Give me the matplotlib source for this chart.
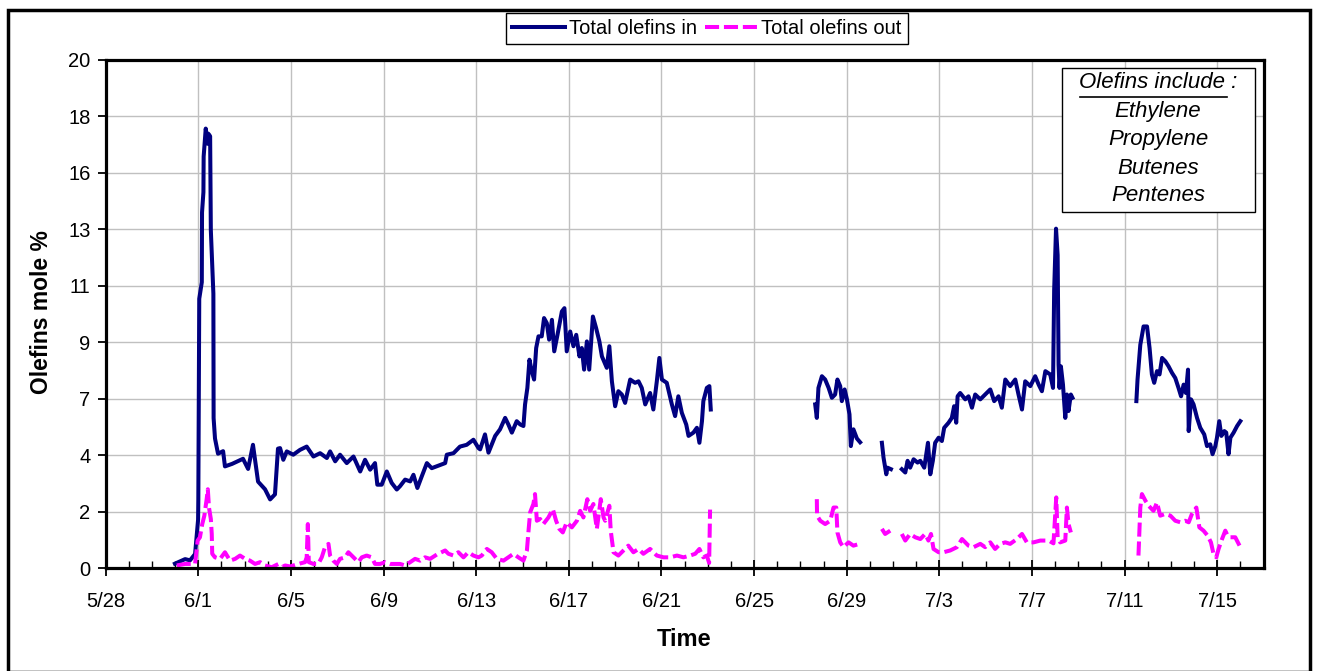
import numpy as np
import matplotlib.pyplot as plt
from matplotlib.patches import Rectangle
from matplotlib.lines import Line2D

plt.rcParams['font.family'] = ['Liberation Sans', 'DejaVu Sans']

gap = np.nan

# days after 5/28
in_days = [
    2.99, 3.43, 3.64, 3.86, 3.99, 4.00, 4.04, 4.15, 4.16, 4.22,
    4.23, 4.32, 4.41, 4.43, 4.51, 4.54, 4.65, 4.66, 4.72, 4.85,
    5.07, 5.15, 5.46, 5.93, 6.15, 6.36, 6.58, 6.88, 7.10, 7.31,
    7.44, 7.53, 7.67, 7.82, 8.10, 8.39, 8.68, 8.97, 9.26, 9.55,
    9.69, 9.91, 10.12, 10.41, 10.70, 10.99, 11.20, 11.42, 11.63, 11.73,
    11.92, 12.14, 12.35, 12.57, 12.71, 12.93, 13.15, 13.29, 13.46, 13.65,
    13.87, 14.08, 14.66, 14.73, 15.02, 15.30, 15.59, 15.88, 16.10, 16.17,
    16.38, 16.53, 16.82, 17.03, 17.25, 17.39, 17.54, 17.75, 17.90, 18.04,
    18.11, 18.21, 18.30, 18.40, 18.50, 18.59, 18.69, 18.83, 18.93, 19.05,
    19.15, 19.27, 19.37, 19.51, 19.70, 19.81, 19.91, 20.06, 20.20, 20.32,
    20.46, 20.56, 20.66, 20.78, 20.88, 21.04, 21.18, 21.32, 21.43, 21.64,
    21.75, 21.86, 22.00, 22.14, 22.29, 22.43, 22.65, 22.86, 23.01, 23.15,
    23.30, 23.51, 23.65, 23.80, 23.91, 24.02, 24.23, 24.45, 24.59, 24.73,
    24.88, 25.07, 25.17, 25.38, 25.53, 25.64, 25.75, 25.81, 25.96, 26.07,
    26.13, gap,
    30.64, 30.71, 30.78, 30.93, 31.07, 31.22, 31.36, 31.50, 31.60, 31.72,
    31.79, 31.91, 32.01, 32.12, 32.18, 32.29, 32.44, 32.58, gap,
    33.52, 33.59, 33.71, 33.76, 33.91, gap,
    34.38, 34.53, 34.63, 34.74, 34.89, 35.06, 35.18, 35.35, 35.51, 35.61,
    35.72, 35.82, 35.97, 36.11, 36.21, 36.40, 36.54, 36.64, 36.73, 36.79,
    36.90, 37.12, 37.26, 37.41, 37.55, 37.77, 37.98, 38.20, 38.37, 38.56,
    38.70, 38.85, 39.06, 39.28, 39.42, 39.57, 39.71, 39.93, 40.14, 40.29,
    40.43, 40.58, 40.79, 40.91, 40.96, 41.04, 41.11, 41.15, 41.19, 41.25,
    41.34, 41.44, 41.51, 41.58, 41.68, 41.75, gap,
    44.51, 44.56, 44.68, 44.82, 44.97, 45.08, 45.18, 45.28, 45.40, 45.51,
    45.62, 45.76, 45.90, 46.05, 46.19, 46.33, 46.44, 46.55, 46.65, 46.74,
    46.77, 46.87, 46.98, 47.13, 47.27, 47.44, 47.56, 47.70, 47.80, 47.92,
    47.99, 48.09, 48.18, 48.31, 48.39, 48.49, 48.57, 48.71, 48.86, 49.00,
]
in_vals = [
    0.17, 0.35, 0.30, 0.55, 1.90, 2.70, 10.6, 11.25, 14.0, 14.8,
    16.2, 17.3, 16.7, 17.1, 17.0, 13.3, 10.8, 5.9, 5.1, 4.5,
    4.6, 4.0, 4.1, 4.3, 3.9, 4.85, 3.4, 3.1, 2.7, 2.9,
    4.7, 4.72, 4.26, 4.59, 4.46, 4.65, 4.78, 4.39, 4.52, 4.33,
    4.59, 4.2, 4.46, 4.13, 4.39, 3.8, 4.26, 3.87, 4.13, 3.28,
    3.28, 3.8, 3.35, 3.09, 3.22, 3.48, 3.41, 3.67, 3.15, 3.61,
    4.13, 3.93, 4.13, 4.46, 4.52, 4.78, 4.85, 5.05, 4.72, 4.67,
    5.26, 4.54, 5.2, 5.46, 5.91, 5.65, 5.33, 5.78, 5.65, 5.59,
    6.44, 7.09, 8.2, 7.75, 7.42, 8.66, 9.12, 9.12, 9.84, 9.64,
    8.99, 9.77, 8.53, 9.18, 10.1, 10.23, 8.53, 9.31, 8.73, 9.18,
    8.33, 8.66, 7.81, 8.92, 7.81, 9.9, 9.44, 8.92, 8.33, 7.88,
    8.73, 7.35, 6.37, 6.96, 6.83, 6.5, 7.42, 7.29, 7.35, 7.09,
    6.44, 6.89, 6.24, 7.35, 8.27, 7.42, 7.29, 6.44, 5.98, 6.76,
    6.11, 5.65, 5.2, 5.33, 5.52, 4.93, 5.78, 6.57, 7.09, 7.16,
    6.24, gap,
    6.44, 5.91, 7.09, 7.55, 7.42, 7.09, 6.7, 6.83, 7.42, 7.16,
    6.57, 7.03, 6.64, 6.05, 4.8, 5.46, 5.1, 4.95, gap,
    4.93, 4.35, 3.69, 3.95, 3.89, gap,
    3.89, 3.76, 4.22, 3.95, 4.28, 4.15, 4.22, 3.95, 4.93, 3.69,
    4.22, 4.93, 5.13, 5.0, 5.52, 5.72, 5.91, 6.37, 5.72, 6.76,
    6.89, 6.64, 6.76, 6.31, 6.83, 6.64, 6.83, 7.03, 6.57, 6.76,
    6.31, 7.42, 7.16, 7.42, 6.83, 6.24, 7.35, 7.16, 7.55, 7.22,
    6.96, 7.75, 7.62, 7.09, 10.95, 13.36, 12.32, 8.0, 7.09, 7.94,
    7.22, 5.91, 6.83, 6.18, 6.83, 6.7, gap,
    6.57, 7.42, 8.79, 9.51, 9.51, 8.66, 7.62, 7.29, 7.75, 7.62,
    8.27, 8.14, 7.94, 7.68, 7.48, 7.09, 6.76, 7.22, 6.89, 7.81,
    5.39, 6.64, 6.44, 5.91, 5.52, 5.26, 4.8, 4.87, 4.48, 4.8,
    5.13, 5.78, 5.2, 5.39, 5.33, 4.48, 5.13, 5.33, 5.59, 5.78,
]

out_days = [
    3.07, 3.43, 3.86, 3.97, 4.07, 4.17, 4.26, 4.36, 4.41, 4.46,
    4.54, 4.58, 4.60, 4.72, 4.94, 5.15, 5.37, 5.59, 5.80, 6.02,
    6.23, 6.45, 6.67, 6.88, 7.17, 7.46, 7.60, 7.75, 7.96, 8.32,
    8.61, 8.68, 8.73, 8.77, 8.97, 9.18, 9.33, 9.47, 9.62, 9.69,
    9.83, 9.98, 10.12, 10.34, 10.48, 10.70, 10.91, 11.06, 11.27, 11.49,
    11.63, 11.85, 12.07, 12.28, 12.50, 12.71, 12.93, 13.15, 13.36, 13.58,
    13.79, 14.01, 14.30, 14.66, 14.80, 15.02, 15.23, 15.45, 15.66, 15.88,
    16.10, 16.24, 16.46, 16.67, 16.89, 17.18, 17.39, 17.61, 17.82, 18.04,
    18.19, 18.26, 18.33, 18.47, 18.54, 18.62, 18.76, 18.90, 19.12, 19.31,
    19.45, 19.59, 19.74, 19.91, 20.13, 20.35, 20.49, 20.63, 20.80, 20.92,
    21.06, 21.21, 21.38, 21.50, 21.57, 21.75, 21.81, 21.93, 22.14, 22.36,
    22.57, 22.79, 23.01, 23.22, 23.51, 23.80, 24.09, 24.38, 24.67, 24.95,
    25.24, 25.46, 25.64, 25.81, 25.96, 26.06, 26.10, gap,
    30.71, 30.72, 30.86, 31.07, 31.29, 31.43, 31.55, 31.60, 31.72, 31.86,
    32.08, 32.29, 32.55, gap,
    33.52, 33.66, 33.88, gap,
    34.38, 34.53, 34.74, 34.96, 35.18, 35.39, 35.53, 35.64, 35.75, 35.97,
    36.18, 36.47, 36.76, 36.98, 37.12, 37.26, 37.48, 37.77, 37.98, 38.20,
    38.41, 38.63, 38.85, 39.06, 39.35, 39.57, 39.78, 40.07, 40.36, 40.72,
    40.93, 41.05, 41.11, 41.22, 41.44, 41.51, 41.58, 41.68, gap,
    44.60, 44.68, 44.75, 44.90, 45.04, 45.25, 45.40, 45.54, 45.76, 45.98,
    46.19, 46.41, 46.62, 46.77, 46.91, 47.10, 47.23, 47.41, 47.59, 47.73,
    47.84, 47.96, 48.06, 48.21, 48.35, 48.45, 48.57, 48.78, 49.00,
]
out_vals = [
    0.10, 0.16, 0.16, 1.08, 1.21, 1.73, 2.06, 2.71, 3.10, 2.38,
    1.93, 1.34, 0.56, 0.42, 0.36, 0.62, 0.29, 0.36, 0.49, 0.36,
    0.29, 0.16, 0.23, 0.10, 0.03, 0.16, 0.03, 0.10, 0.06, 0.16,
    0.23, 0.42, 1.73, 0.23, 0.16, 0.16, 0.42, 0.82, 0.95, 0.49,
    0.29, 0.16, 0.36, 0.42, 0.62, 0.42, 0.23, 0.42, 0.49, 0.42,
    0.16, 0.16, 0.23, 0.16, 0.16, 0.16, 0.10, 0.23, 0.36, 0.29,
    0.42, 0.36, 0.53, 0.69, 0.56, 0.49, 0.62, 0.42, 0.62, 0.49,
    0.42, 0.49, 0.75, 0.62, 0.36, 0.29, 0.42, 0.56, 0.42, 0.29,
    0.69, 1.47, 2.19, 2.52, 2.91, 1.86, 1.93, 1.73, 1.99, 2.32,
    1.86, 1.54, 1.40, 1.80, 1.60, 1.86, 2.25, 1.99, 2.71, 2.25,
    2.52, 1.54, 2.71, 1.99, 1.86, 2.45, 1.47, 0.62, 0.49, 0.69,
    0.88, 0.62, 0.75, 0.56, 0.75, 0.49, 0.42, 0.42, 0.49, 0.42,
    0.49, 0.56, 0.75, 0.42, 0.49, 0.20, 2.30, gap,
    2.71, 2.06, 1.86, 1.73, 1.86, 2.38, 2.38, 1.40, 1.01, 0.82,
    1.01, 0.88, 0.95, gap,
    1.54, 1.34, 1.47, gap,
    1.34, 1.08, 1.34, 1.21, 1.14, 1.34, 1.08, 1.34, 0.75, 0.62,
    0.62, 0.69, 0.82, 1.14, 1.01, 0.88, 0.82, 0.95, 0.82, 1.01,
    0.75, 0.95, 1.01, 0.95, 1.14, 1.34, 1.01, 1.01, 1.08, 1.08,
    0.97, 2.78, 1.21, 1.01, 1.08, 2.38, 1.73, 1.40, gap,
    0.49, 2.38, 2.91, 2.65, 2.45, 2.25, 2.58, 2.06, 2.13, 2.06,
    1.86, 1.80, 1.86, 1.80, 2.13, 2.38, 1.60, 1.47, 1.27, 1.01,
    0.56, 0.42, 0.75, 1.14, 1.47, 1.27, 1.21, 1.21, 0.82,
]

x_ticks = list(range(0, 49, 4))
x_labels = ['5/28', '6/1', '6/5', '6/9', '6/13', '6/17', '6/21',
            '6/25', '6/29', '7/3', '7/7', '7/11', '7/15']
y_ticks = [i * 20 / 9 for i in range(10)]
y_labels = ['0', '2', '4', '7', '9', '11', '13', '16', '18', '20']
olefins = ['Ethylene', 'Propylene', 'Butenes', 'Pentenes']

W, H = 1317, 671
fig = plt.figure(figsize=(W / 100, H / 100), dpi=100)


def fx(x):
    return x / W


def fy(y):
    return 1 - y / H


ax = fig.add_axes([fx(105.7), fy(568), (1263.5 - 105.7) / W, (568 - 60) / H])

ax.plot(in_days, in_vals, color='#000080', lw=2.9, label='Total olefins in')
ax.plot(out_days, out_vals, color='#FF00FF', lw=2.9, dashes=(3.5, 1.2),
        dash_capstyle='butt', label='Total olefins out')

ax.set_xlim(0, 50)
ax.set_ylim(0, 20)
ax.set_xticks(x_ticks)
ax.set_xticklabels(x_labels, fontsize=14.5)
ax.set_xticks(range(0, 51), minor=True)
ax.set_yticks(y_ticks)
ax.set_yticklabels(y_labels, fontsize=14.5)
ax.tick_params(axis='x', which='major', direction='inout', length=12, width=1.3, pad=11)
ax.tick_params(axis='x', which='minor', direction='in', length=5, width=1)
ax.tick_params(axis='y', which='major', direction='out', length=6, width=1.3, pad=5)
ax.grid(True, which='major', color='#c0c0c0', lw=1)
ax.set_axisbelow(True)
for s in ax.spines.values():
    s.set_linewidth(2.3)

fig.text(fx(42), fy(312), 'Olefins mole %', rotation=90, ha='center', va='center',
         fontsize=16.5, fontweight='bold')
fig.text(fx(684), fy(640), 'Time', ha='center', va='center',
         fontsize=17, fontweight='bold')

leg = fig.legend(loc='center', bbox_to_anchor=(fx(707), fy(28.5)), ncol=2,
                 fontsize=14.5, frameon=True, fancybox=False, framealpha=1,
                 edgecolor='black', handlelength=2.6, handletextpad=0.2,
                 columnspacing=0.4, borderpad=0.3)
leg.get_frame().set_linewidth(1.0)

# note box
fig.patches.append(Rectangle((fx(1062), fy(212)), (1255 - 1062) / W, (212 - 68) / H,
                             transform=fig.transFigure, fill=True, facecolor='white',
                             edgecolor='black', lw=1.0, zorder=5))
fig.text(fx(1158), fy(83), 'Olefins include :', ha='center', va='center',
         fontsize=16, style='italic', zorder=6)
fig.lines.append(Line2D([fx(1080), fx(1227)], [fy(97), fy(97)], color='black', lw=1.2,
                        transform=fig.transFigure, zorder=6))
for i, name in enumerate(olefins):
    fig.text(fx(1158), fy(112 + 28 * i), name, ha='center', va='center',
             fontsize=16, style='italic', zorder=6)

# outer border
fig.patches.append(Rectangle((fx(7.5), fy(672)), (1310 - 7.5) / W, (672 - 10) / H,
                             transform=fig.transFigure, fill=False,
                             edgecolor='black', lw=2.5, zorder=10))

fig.savefig('out.png', dpi=100)
